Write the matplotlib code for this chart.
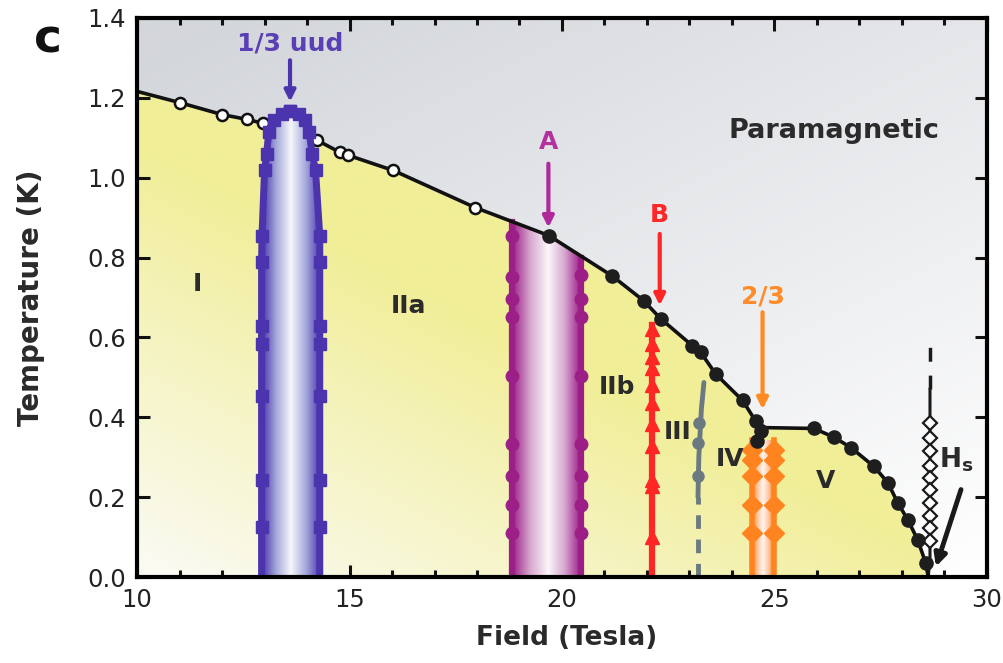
import numpy as np
import matplotlib
matplotlib.use("Agg")
import matplotlib.pyplot as plt
from matplotlib.colors import LinearSegmentedColormap, to_rgb
from matplotlib.patches import Polygon
from matplotlib.ticker import MultipleLocator

plt.rcParams['font.family'] = ['DejaVu Sans']

# ---------------- data ----------------
# paramagnetic boundary: open circles (low field), closed circles (high field)
open_B = [11.0, 12.0, 12.58, 12.97, 14.23, 14.78, 14.97, 16.03, 17.96]
open_T = [1.188, 1.158, 1.146, 1.136, 1.094, 1.063, 1.056, 1.018, 0.925]
closed_B = [19.69, 21.18, 21.92, 22.32, 23.07, 23.26, 23.62, 24.25, 24.56, 24.68, 24.60,
            25.93, 26.40, 26.80, 27.34, 27.67, 27.90, 28.14, 28.37, 28.56]
closed_T = [0.855, 0.754, 0.692, 0.647, 0.579, 0.563, 0.508, 0.442, 0.390, 0.365, 0.340,
            0.372, 0.350, 0.324, 0.277, 0.236, 0.186, 0.143, 0.093, 0.035]
bound_B = [10.0, 11.0, 12.0, 12.58, 12.97, 13.3, 13.6, 13.9, 14.23, 14.78, 14.97, 16.03,
           17.96, 19.69, 21.18, 21.92, 22.32, 23.07, 23.26, 23.62, 24.25, 24.56, 24.78,
           25.93, 26.40, 26.80, 27.34, 27.67, 27.90, 28.14, 28.37, 28.56, 28.62]
bound_T = [1.216, 1.188, 1.158, 1.146, 1.136, 1.155, 1.165, 1.15, 1.094, 1.063, 1.056, 1.018,
           0.925, 0.855, 0.754, 0.692, 0.647, 0.579, 0.563, 0.508, 0.442, 0.390, 0.374,
           0.372, 0.350, 0.324, 0.277, 0.236, 0.186, 0.143, 0.093, 0.035, 0.0]

# 1/3 uud dome
uud_T = [0.0, 0.126, 0.244, 0.452, 0.583, 0.628, 0.788, 0.855, 1.018, 1.06, 1.115, 1.145, 1.16, 1.167]
uud_left_B = [12.93, 12.93, 12.93, 12.93, 12.93, 12.93, 12.93, 12.94, 13.0, 13.05, 13.1, 13.22, 13.4, 13.6]
uud_right_B = [14.3, 14.3, 14.3, 14.3, 14.3, 14.3, 14.3, 14.3, 14.2, 14.12, 14.05, 13.95, 13.8, 13.6]
uud_center = 13.6

# phase A band
A_left, A_right, A_center = 18.83, 20.44, 19.68
A_left_T = [0.855, 0.75, 0.696, 0.65, 0.503, 0.332, 0.252, 0.181, 0.11]
A_right_T = [0.755, 0.696, 0.65, 0.503, 0.332, 0.252, 0.181, 0.11]
A_top_B = [18.83, 19.69, 20.44]
A_top_T = [0.89, 0.855, 0.80]

# phase B line
B_field = 22.12
B_top = 0.63
B_T = [0.62, 0.583, 0.55, 0.524, 0.482, 0.436, 0.382, 0.327, 0.244, 0.227, 0.101]

# III line
III_B = [23.2, 23.2, 23.22, 23.28, 23.34]
III_T = [0.0, 0.2, 0.3, 0.42, 0.487]
III_pt_B = [23.23, 23.21, 23.2]
III_pt_T = [0.386, 0.336, 0.252]

# 2/3 band
O_left, O_right, O_center, O_top = 24.48, 24.99, 24.74, 0.344
O_T = [0.319, 0.294, 0.252, 0.181, 0.11]

# saturation field Hs
Hs_B = 28.66
Hs_T = [0.386, 0.348, 0.315, 0.277, 0.248, 0.219, 0.185, 0.152, 0.122, 0.089]

# ---------------- figure ----------------
fig = plt.figure(figsize=(10.04, 6.63), dpi=100)
ax = fig.add_axes([0.1365, 0.1297, 0.8465, 0.8433])
ax.set_xlim(10, 30)
ax.set_ylim(0, 1.4)

# background gradients
nx, ny = 400, 300
u = np.linspace(0, 1, nx)[None, :]
v = np.linspace(0, 1, ny)[:, None]
gray = np.array(to_rgb('#d3d6db'))
white = np.array([1.0, 1.0, 1.0])
s = np.clip(0.45 * (1 - u) + 0.6 * v, 0, 1)[..., None]
bg = white + s * (gray - white)
ax.imshow(bg, extent=[10, 30, 0, 1.4], origin='lower', aspect='auto', zorder=0,
          interpolation='bilinear')

yel = np.array(to_rgb('#f1ee98'))
wy = np.array(to_rgb('#fbfbf6'))
sy = np.clip((u + 1.3 * v) / 1.0, 0, 1)[..., None]
ybg = wy + sy * (yel - wy)
im = ax.imshow(ybg, extent=[10, 30, 0, 1.4], origin='lower', aspect='auto', zorder=1,
               interpolation='bilinear')
poly_pts = list(zip(bound_B, bound_T)) + [(10.0, 0.0)]
ypoly = Polygon(poly_pts, closed=True, transform=ax.transData, facecolor='none', edgecolor='none')
ax.add_patch(ypoly)
im.set_clip_path(ypoly)


def band(x0, x1, xc, top, edge, mid, centre, poly):
    cmap = LinearSegmentedColormap.from_list('b', [edge, mid, centre, mid, edge])
    xs = np.linspace(x0, x1, 300)
    vals = np.where(xs < xc, (xs - x0) / (xc - x0) * 0.5, 0.5 + (xs - xc) / (x1 - xc) * 0.5)
    img = ax.imshow(vals[None, :], extent=[x0, x1, 0, top], origin='lower', aspect='auto',
                    cmap=cmap, vmin=0, vmax=1, zorder=2, interpolation='bilinear')
    p = Polygon(poly, closed=True, transform=ax.transData, facecolor='none', edgecolor='none')
    ax.add_patch(p)
    img.set_clip_path(p)


# uud dome
uud_col = '#4b34ad'
uud_poly = list(zip(uud_left_B, uud_T)) + list(zip(uud_right_B[::-1], uud_T[::-1]))
band(12.93, 14.3, uud_center, 1.17, uud_col, '#a6aadb', '#f6f6fb', uud_poly)
ax.plot(uud_left_B + uud_right_B[::-1], uud_T + uud_T[::-1], color=uud_col, lw=5,
        zorder=6, solid_joinstyle='round')
ax.plot(uud_left_B[1:], uud_T[1:], 's', color=uud_col, ms=9, zorder=6)
ax.plot(uud_right_B[1:], uud_T[1:], 's', color=uud_col, ms=9, zorder=6)

# A band
A_col = '#9c1f88'
A_poly = [(A_left, 0.0), (A_left, A_top_T[0])] + list(zip(A_top_B[1:], A_top_T[1:])) + [(A_right, 0.0)]
band(A_left, A_right, A_center, 0.9, A_col, '#d7a8cf', '#fbf6fa', A_poly)
ax.plot([A_left, A_left], [0, A_top_T[0]], color=A_col, lw=4.5, zorder=3)
ax.plot([A_right, A_right], [0, A_top_T[-1]], color=A_col, lw=4.5, zorder=3)
ax.plot([A_left] * len(A_left_T), A_left_T, 'o', color=A_col, ms=9, zorder=3)
ax.plot([A_right] * len(A_right_T), A_right_T, 'o', color=A_col, ms=9, zorder=3)

# B line
B_col = '#ff2626'
ax.plot([B_field, B_field], [0, B_top], color=B_col, lw=4.5, zorder=3)
ax.plot([B_field] * len(B_T), B_T, '^', color=B_col, ms=10, zorder=3)

# III line
III_col = '#6b7a80'
ax.plot(III_B[1:], III_T[1:], color=III_col, lw=3.5, zorder=3, solid_capstyle='round')
ax.plot(III_B[:2], III_T[:2], color=III_col, lw=3.5, zorder=3, ls=(0, (2.8, 2.2)))
ax.plot(III_pt_B, III_pt_T, 'o', color=III_col, ms=8, zorder=3)

# 2/3 band
O_col = '#ff8420'
O_poly = [(O_left, 0), (O_left, O_top), (O_right, O_top), (O_right, 0)]
band(O_left, O_right, O_center, O_top, O_col, '#ffc7a0', '#fff4ef', O_poly)
ax.plot([O_left, O_left], [0, O_top], color=O_col, lw=4, zorder=3)
ax.plot([O_right, O_right], [0, O_top], color=O_col, lw=4, zorder=3)
ax.plot([O_left] * len(O_T), O_T, 'D', color=O_col, ms=10, zorder=3)
ax.plot([O_right] * len(O_T), O_T, 'D', color=O_col, ms=10, zorder=3)

# Hs
ax.plot([28.62, Hs_B, Hs_B], [0.0, 0.05, 0.47], color='#1a1a1a', lw=2.2, zorder=4)
ax.plot([Hs_B, Hs_B], [0.47, 0.60], color='#1a1a1a', lw=2.5, zorder=4, ls=(0, (4, 4)))
ax.plot([Hs_B] * len(Hs_T), Hs_T, 'D', mfc='white', mec='#1a1a1a', mew=1.6, ms=7.5, zorder=4)
ax.annotate('', xy=(28.8, 0.026), xytext=(29.39, 0.219),
            arrowprops=dict(arrowstyle='-|>', color='#1a1a1a', lw=3.5, mutation_scale=18,
                            shrinkA=0, shrinkB=0), zorder=5)

# boundary
ax.plot(bound_B, bound_T, color='#111111', lw=2.6, zorder=4, solid_joinstyle='round')
ax.plot(open_B, open_T, 'o', mfc='white', mec='#111111', mew=1.8, ms=8, zorder=5)
ax.plot(closed_B, closed_T, 'o', color='#1e1e1e', ms=9.5, zorder=5)


def arrow_label(x, y0, y1, ytxt, text, col, tcol):
    ax.annotate('', xy=(x, y1), xytext=(x, y0),
                arrowprops=dict(arrowstyle='-|>', color=col, lw=3.0, mutation_scale=16,
                                shrinkA=0, shrinkB=0), zorder=7)
    ax.text(x, ytxt, text, color=tcol, fontsize=18, fontweight='bold', ha='center', va='center',
            zorder=7)


arrow_label(13.6, 1.294, 1.19, 1.335, '1/3 uud', uud_col, '#5a3fb5')
arrow_label(19.68, 1.035, 0.875, 1.09, 'A', '#b0289a', '#b5309f')
arrow_label(22.3, 0.859, 0.68, 0.907, 'B', B_col, B_col)
arrow_label(24.72, 0.663, 0.42, 0.703, '2/3', '#ff8a22', '#ff8c28')

# phase labels
lab_col = '#2b2b2b'
ax.text(26.4, 1.118, 'Paramagnetic', color=lab_col, fontsize=19.5, fontweight='bold',
        ha='center', va='center', zorder=8)
for x, y, t in [(11.41, 0.734, 'I'), (16.38, 0.678, 'IIa'),
                (21.3, 0.475, 'IIb'), (22.72, 0.364, 'III'), (23.95, 0.296, 'IV'),
                (26.2, 0.241, 'V')]:
    ax.text(x, y, t, color=lab_col, fontsize=18, fontweight='bold', ha='center', va='center', zorder=8)
ax.text(29.27, 0.294, r'$\mathbf{H_s}$', color=lab_col, fontsize=19, ha='center', va='center', zorder=8)

# axes styling
for sp in ax.spines.values():
    sp.set_linewidth(3)
    sp.set_zorder(10)
ax.set_xticks([10, 15, 20, 25, 30])
ax.set_yticks([0.0, 0.2, 0.4, 0.6, 0.8, 1.0, 1.2, 1.4])
ax.set_yticklabels(['0.0', '0.2', '0.4', '0.6', '0.8', '1.0', '1.2', '1.4'])
ax.xaxis.set_minor_locator(MultipleLocator(1))
ax.tick_params(which='both', direction='in', top=True, right=True, width=2.2, colors='#111111',
               labelsize=17.5, labelcolor='#222222')
ax.tick_params(which='major', length=9, pad=8)
ax.tick_params(which='minor', length=5)
ax.set_xlabel('Field (Tesla)', fontsize=19, fontweight='bold', color='#2a2a2a')
ax.set_ylabel('Temperature (K)', fontsize=20, fontweight='bold', color='#2a2a2a')
ax.xaxis.set_label_coords(0.505, -0.085)
ax.yaxis.set_label_coords(-0.108, 0.5)
fig.text(0.048, 0.94, 'c', fontsize=34, fontweight='bold', color='#111111', ha='center', va='center')

fig.savefig('out.png', dpi=100)
